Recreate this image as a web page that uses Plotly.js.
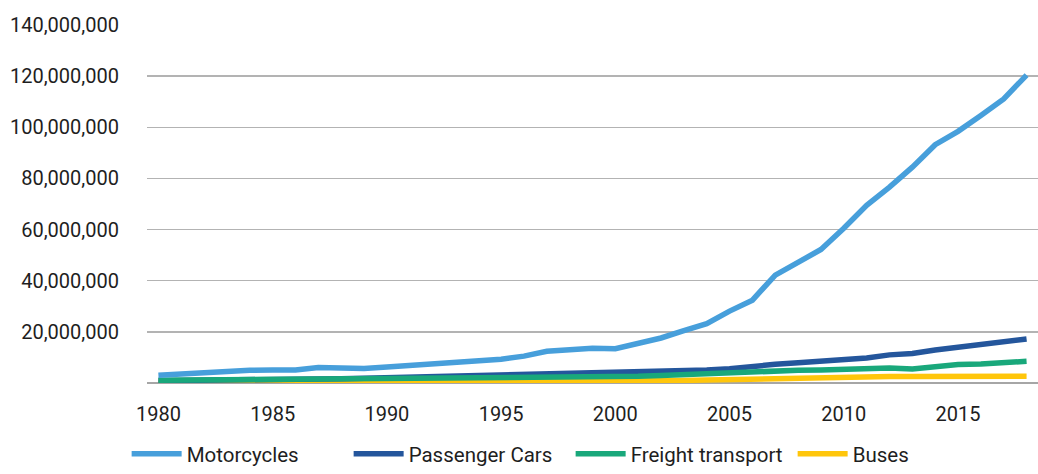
<!DOCTYPE html>
<html>
<head>
<meta charset="utf-8">
<script src="https://cdn.plot.ly/plotly-3.0.1.min.js"></script>
<style>
html,body{margin:0;padding:0;background:#fff;}
#chart{width:1038px;height:474px;}
</style>
</head>
<body>
<div id="chart"></div>
<script>
const years = [1980,1981,1982,1983,1984,1985,1986,1987,1988,1989,1990,1991,1992,1993,1994,1995,1996,1997,1998,1999,2000,2001,2002,2003,2004,2005,2006,2007,2008,2009,2010,2011,2012,2013,2014,2015,2016,2017,2018];

const motorcycles = [3.0,3.6,4.2,4.6,5.0,5.1,5.1,6.1,5.9,5.7,6.3,6.9,7.2,7.6,8.2,9.3,10.5,12.4,13.0,13.6,13.4,15.5,17.6,20.5,23.2,28.1,32.4,42.2,47.3,52.2,60.5,69.5,76.6,84.4,93.2,98.4,104.6,111.1,120.4].map(v => v*1e6);

const passengerCars = [0.9,0.95,1.0,1.05,1.1,1.15,1.25,1.5,1.7,1.9,2.1,2.3,2.4,2.5,2.6,2.8,3.1,3.5,3.6,3.7,3.8,4.0,4.3,4.6,5.1,5.6,6.6,7.3,7.9,8.5,9.1,9.8,11.0,11.5,12.9,13.9,15.0,16.0,17.2].map(v => v*1e6);

const freightTransport = [1.1,1.15,1.2,1.25,1.3,1.35,1.4,1.45,1.5,1.6,1.7,1.75,1.8,1.85,1.9,2.0,2.1,2.2,2.25,2.3,2.4,2.6,2.9,3.3,3.6,3.8,4.2,4.7,5.0,5.1,5.4,5.6,5.9,5.5,6.4,7.2,7.4,7.8,8.5].map(v => v*1e6);

const buses = [0.15,0.17,0.2,0.22,0.25,0.28,0.3,0.32,0.35,0.38,0.45,0.48,0.5,0.52,0.55,0.6,0.62,0.63,0.64,0.65,0.7,0.8,0.9,1.0,1.2,1.4,1.7,2.0,2.2,2.3,2.4,2.45,2.5,2.5,2.55,2.55,2.6,2.6,2.6].map(v => v*1e6);

const seriesNames = ['Motorcycles','Passenger Cars','Freight transport','Buses'];
const seriesColors = ['#479fdb','#24569c','#19a87b','#ffc60b'];

const yTicks = [0,20e6,40e6,60e6,80e6,100e6,120e6,140e6];
const yTickText = ['','20,000,000','40,000,000','60,000,000','80,000,000','100,000,000','120,000,000','140,000,000'];
const xTicks = [1980,1985,1990,1995,2000,2005,2010,2015];

const lw = 5.5;
function tr(name, y, color, rank){
  return {x: years, y: y, name: name, type:'scatter', mode:'lines',
    line:{color: color, width: lw, shape:'linear'}, legendrank: rank,
    hoverinfo:'x+y+name'};
}
const data = [
  tr(seriesNames[3], buses, seriesColors[3], 4),
  tr(seriesNames[1], passengerCars, seriesColors[1], 2),
  tr(seriesNames[2], freightTransport, seriesColors[2], 3),
  tr(seriesNames[0], motorcycles, seriesColors[0], 1)
];

const font = "Roboto, 'DejaVu Sans', sans-serif";
const layout = {
  width:1038, height:474,
  margin:{l:147, r:0, t:25, b:91},
  paper_bgcolor:'#fff', plot_bgcolor:'#fff',
  font:{family:font, size:20, color:'#1e1e1e'},
  showlegend:true,
  legend:{orientation:'h', xref:'container', yref:'container', x:0.122, y:-0.012, xanchor:'left', yanchor:'bottom',
    font:{family:font, size:20.5, color:'#1e1e1e'}, traceorder:'normal', itemwidth:50,
    entrywidth:157, entrywidthmode:'pixels', tracegroupgap:0},
  xaxis:{range:[1979.5,2018.5], tickmode:'array', tickvals:xTicks, ticktext:xTicks.map(String),
    showgrid:false, zeroline:false, showline:false, ticks:'', ticklabelstandoff:17,
    tickfont:{family:font, size:20, color:'#1e1e1e'}, fixedrange:true},
  yaxis:{range:[0,140e6], tickmode:'array', tickvals:yTicks, ticktext:yTickText,
    showgrid:true, gridcolor:'#b3b3b3', gridwidth:1.5, zeroline:true, zerolinecolor:'#a6a6a6', zerolinewidth:2,
    showline:false, ticks:'', ticklabelstandoff:27,
    tickfont:{family:font, size:20, color:'#1e1e1e'}, fixedrange:true}
};

Plotly.newPlot('chart', data, layout, {displayModeBar:false, staticPlot:true});
</script>
</body>
</html>
